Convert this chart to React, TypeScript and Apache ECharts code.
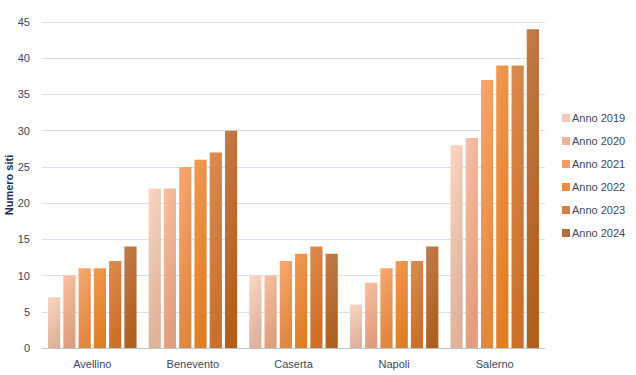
import React, { useEffect, useRef } from "react";
import * as echarts from "echarts";

const categories = ["Avellino", "Benevento", "Caserta", "Napoli", "Salerno"];
const seriesNames = ["Anno 2019", "Anno 2020", "Anno 2021", "Anno 2022", "Anno 2023", "Anno 2024"];
const anno2019 = [7, 22, 10, 6, 28];
const anno2020 = [10, 22, 10, 9, 29];
const anno2021 = [11, 25, 12, 11, 37];
const anno2022 = [11, 26, 13, 12, 39];
const anno2023 = [12, 27, 14, 12, 39];
const anno2024 = [14, 30, 13, 14, 44];
const seriesValues = [anno2019, anno2020, anno2021, anno2022, anno2023, anno2024];
const yAxisTitle = "Numero siti";

const topColors = ["#FAD7C4", "#F8C0A2", "#F8A972", "#F19A52", "#DC8C52", "#C27D4C"];
const bottomColors = ["#DDB39C", "#DF9F7E", "#E0873E", "#E07E26", "#CC6F27", "#AF5F1E"];
const legendColors = ["#F3C9B3", "#EFB193", "#F2A068", "#EC8C40", "#D27D42", "#B86D37"];

export default function App() {
  const ref = useRef<HTMLDivElement>(null);
  useEffect(() => {
    if (!ref.current) return;
    const chart = echarts.init(ref.current, null, { renderer: "svg" });
    const font = "'Liberation Sans', Arial, sans-serif";
    chart.setOption({
      animation: false,
      backgroundColor: "#ffffff",
      grid: { left: 42, right: 91, top: 22, bottom: 27, containLabel: false, outerBoundsMode: "none" },
      graphic: [
        {
          type: "text",
          x: 9,
          y: 185,
          rotation: Math.PI / 2,
          style: {
            text: yAxisTitle,
            fontFamily: font,
            fontSize: 11,
            fontWeight: "bold",
            fill: "#1F3050",
            align: "center",
            verticalAlign: "middle",
          },
        },
      ],
      legend: {
        orient: "vertical",
        left: 557,
        top: 106,
        itemWidth: 8,
        itemHeight: 8,
        itemGap: 9,
        icon: "rect",
        data: seriesNames.map((n, i) => ({ name: n, itemStyle: { color: legendColors[i] } })),
        textStyle: { fontFamily: font, fontSize: 11, color: "#3B4A63", lineHeight: 14, padding: [0, 0, 0, -3] },
      },
      xAxis: {
        type: "category",
        data: categories,
        axisTick: { show: false },
        axisLine: { lineStyle: { color: "#BFC7D1" } },
        axisLabel: { fontFamily: font, fontSize: 11, color: "#3B4A63", margin: 10 },
      },
      yAxis: {
        type: "value",
        min: 0,
        max: 45,
        interval: 5,
        axisLine: { show: false },
        axisTick: { show: false },
        axisLabel: { fontFamily: font, fontSize: 11, color: "#3B4A63", margin: 12 },
        splitLine: { lineStyle: { color: "#D9E2EC", width: 1 } },
      },
      series: seriesValues.map((vals, i) => ({
        name: seriesNames[i],
        type: "bar",
        data: vals,
        barGap: "25%",
        barCategoryGap: "12%",
        itemStyle: {
          color: new echarts.graphic.LinearGradient(0, 0, 0.3, 1, [
            { offset: 0, color: topColors[i] },
            { offset: 1, color: bottomColors[i] },
          ]),
        },
      })),
    });
    return () => chart.dispose();
  }, []);
  return <div ref={ref} style={{ width: 636, height: 375, position: "absolute", left: 0, top: 0 }} />;
}
